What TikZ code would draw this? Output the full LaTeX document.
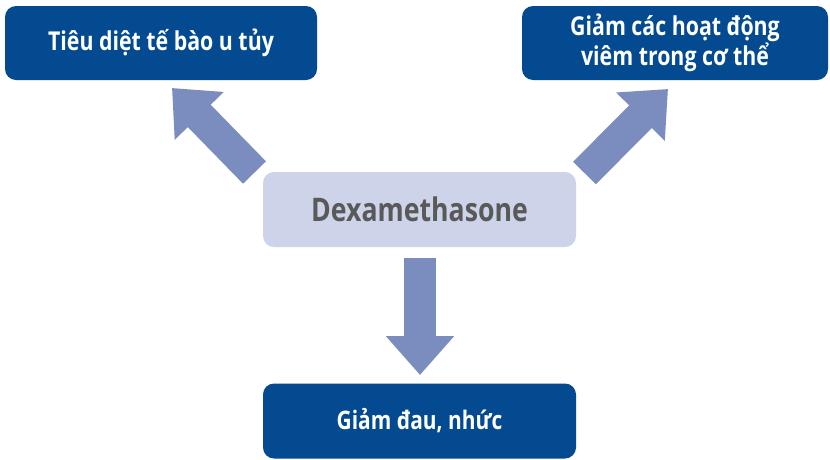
\documentclass[tikz,border=0pt]{standalone}
\usepackage{fontspec}
\newfontfamily\condbold{Open Sans}[FakeStretch=0.82]
\usetikzlibrary{arrows.meta,calc}
\definecolor{darkbox}{HTML}{034A91}
\definecolor{lightbox}{HTML}{CDD3E8}
\definecolor{arrowc}{HTML}{7B8CBF}
\definecolor{dextext}{HTML}{595959}
\begin{document}
\begin{tikzpicture}[x=1pt,y=-1pt,
  darkbox/.style={rounded corners=11pt, fill=darkbox, text=white, font=\condbold\bfseries\fontsize{26}{21.5}\selectfont, align=center, inner sep=0pt},
  lightbox/.style={rounded corners=11pt, fill=lightbox, text=dextext, font=\condbold\bfseries\fontsize{32.5}{32}\selectfont, align=center, inner sep=0pt},
  bigarrow/.style={draw=arrowc, line width=32pt, -{Triangle[width=66pt,length=39pt]}}
]
\useasboundingbox (0,0) rectangle (830,459);
\node[darkbox, minimum width=312pt, minimum height=74pt] (tl) at (161,43) {Tiêu diệt tế bào u tủy};
\node[darkbox, minimum width=306pt, minimum height=74pt] (tr) at (675,43) {Giảm các hoạt động\\viêm trong cơ thể};
\node[lightbox, minimum width=313pt, minimum height=75pt] (dex) at (419.5,209.5) {Dexamethasone};
\node[darkbox, minimum width=313pt, minimum height=75pt, font=\condbold\bfseries\fontsize{25.5}{25}\selectfont] (bot) at (419.5,421) {Giảm đau, nhức};
\coordinate (lt) at (254.5,172.5);
\coordinate (lh) at (172,88);
\coordinate (rt) at (584.5,173);
\coordinate (rh) at (668,89);
\coordinate (dt) at (420,258);
\coordinate (dh) at (420,375);
\draw[bigarrow] (lt) -- (lh);
\draw[bigarrow] (rt) -- (rh);
\draw[bigarrow] (dt) -- (dh);
\end{tikzpicture}
\end{document}
